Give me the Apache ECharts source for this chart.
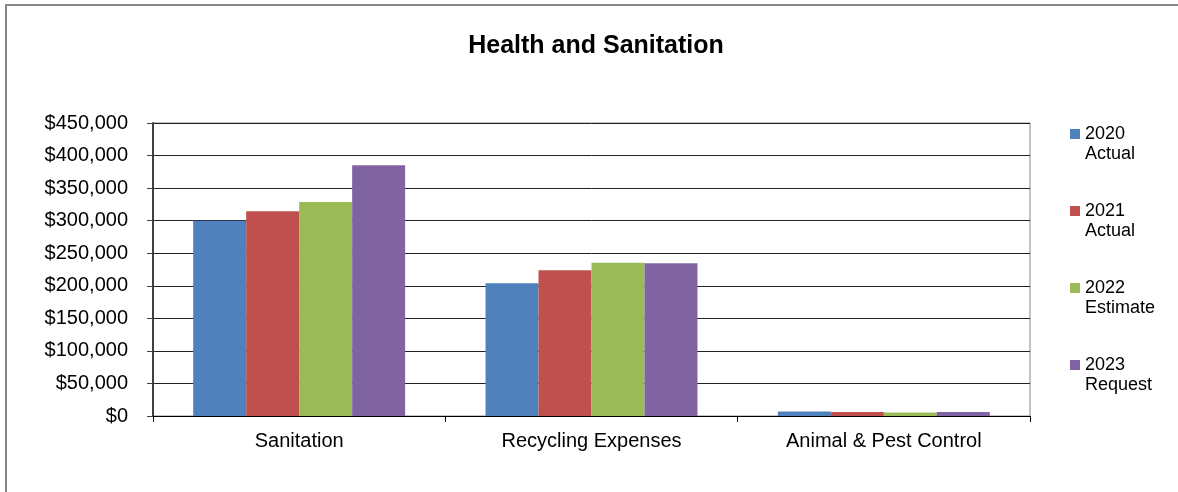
<!DOCTYPE html>
<html>
<head>
<meta charset="utf-8">
<title>Health and Sanitation</title>
<script src="https://cdn.jsdelivr.net/npm/echarts@6/dist/echarts.min.js"></script>
<style>
  html, body { margin: 0; padding: 0; background: #fff; }
  #chart { width: 1178px; height: 492px; }
</style>
</head>
<body>
<div id="chart"></div>
<script>
// Budget categories and yearly amounts (USD)
const categories = ['Sanitation', 'Recycling Expenses', 'Animal & Pest Control'];
const seriesNames = ['2020 Actual', '2021 Actual', '2022 Estimate', '2023 Request'];
const actual2020 = [300000, 204000, 7000];
const actual2021 = [314500, 224000, 6000];
const estimate2022 = [328500, 235500, 5500];
const request2023 = [385000, 234500, 6000];
const colors = ['#4F81BD', '#C0504D', '#9BBB59', '#8064A2'];

const FONT = '"Liberation Sans", Arial, sans-serif';
const values = [actual2020, actual2021, estimate2022, request2023];

const chart = echarts.init(document.getElementById('chart'), null, { renderer: 'canvas' });

chart.setOption({
  animation: false,
  backgroundColor: '#fff',
  color: colors,
  title: {
    text: 'Health and Sanitation',
    left: 591,
    textAlign: 'center',
    top: 29,
    textStyle: { fontFamily: FONT, fontSize: 25, fontWeight: 'bold', color: '#000' }
  },
  graphic: [{
    type: 'rect',
    shape: { x: 6, y: 5, width: 1200, height: 600 },
    style: { fill: 'none', stroke: '#868686', lineWidth: 2 },
    silent: true
  }],
  legend: {
    orient: 'vertical',
    left: 1070,
    top: 104,
    padding: 0,
    itemGap: 17,
    itemWidth: 10,
    itemHeight: 10,
    icon: 'rect',
    // a leading blank line keeps the swatch level with the year line
    formatter: name => '\n' + name.replace(' ', '\n'),
    textStyle: { fontFamily: FONT, fontSize: 18, lineHeight: 20, color: '#000' },
    data: seriesNames
  },
  grid: {
    left: 153, right: 148, top: 123, bottom: 76,
    show: true, borderColor: '#888', borderWidth: 1
  },
  xAxis: {
    type: 'category',
    data: categories,
    axisLine: { show: true, lineStyle: { color: '#000', width: 1 } },
    axisTick: { show: true, length: 6, lineStyle: { color: '#000' } },
    axisLabel: { fontFamily: FONT, fontSize: 20, color: '#000', margin: 15 }
  },
  yAxis: {
    type: 'value',
    min: 0, max: 450000, interval: 50000,
    axisLine: { show: true, lineStyle: { color: '#404040', width: 2 } },
    axisTick: { show: true, inside: false, length: 6, lineStyle: { color: '#404040' } },
    axisLabel: {
      fontFamily: FONT, fontSize: 20, color: '#000', margin: 25,
      formatter: v => '$' + v.toLocaleString('en-US')
    },
    splitLine: { show: true, lineStyle: { color: '#222', width: 1 } }
  },
  series: seriesNames.map((name, i) => ({
    name: name,
    type: 'bar',
    data: values[i],
    barGap: '0%',
    barCategoryGap: '27.5%',
    itemStyle: { color: colors[i] }
  }))
});
</script>
</body>
</html>
